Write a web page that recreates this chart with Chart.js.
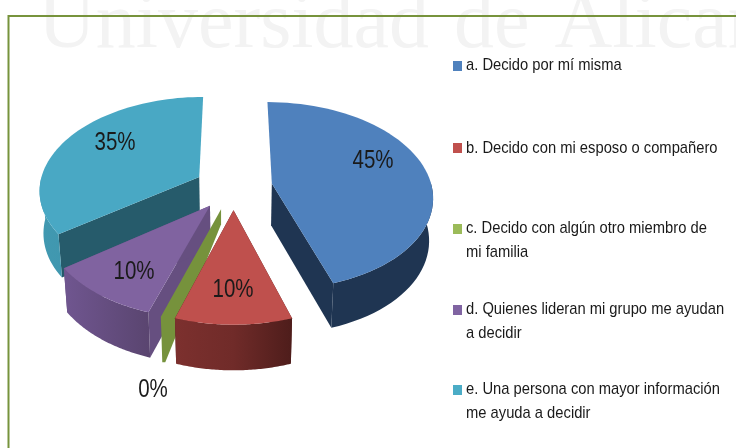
<!DOCTYPE html>
<html><head><meta charset="utf-8">
<style>
html,body{margin:0;padding:0;background:#fff}
#wrap{position:absolute;left:0;top:0;width:736px;height:448px}
</style>
<script src="https://cdn.jsdelivr.net/npm/chart.js@4"></script>
</head><body>
<div id="wrap"><canvas id="c" width="736" height="448"></canvas></div>
<script>
const categories=[
 ["a. Decido por mí misma"],
 ["b. Decido con mi esposo o compañero"],
 ["c. Decido con algún otro miembro de","mi familia"],
 ["d. Quienes lideran mi grupo me ayudan","a decidir"],
 ["e. Una persona con mayor información","me ayuda a decidir"]];
const values=[45,10,0,10,35];
const topColors=["#4f81bd","#bf504d","#76923c","#8063a0","#49a8c4"];
const legendColors=["#4f81bd","#c0504d","#9bbb59","#8064a2","#4bacc6"];
const cutColors=["#1f3552","#4e1d1b","#76923c","#664f80","#265b6b"];
const sideStops=[["#1f3552","#1f3552"],["#7c302e","#702b29","#4e1d1b"],["#76923c","#76923c"],["#705690","#5a4570"],["#4199b1","#3a8ca3"]];

const labelPos=[[373,161],[233,290],[153,390],[134,272],[115,143]];
const legendY=[[65],[148],[228,252],[309,333],[389,413]];
const markerY=[66,148,229,310,390];
const flat=0.58, persp=0.13, depth=42;

const pie3d={id:'pie3d',
 beforeDraw(ch){
  const c=ch.ctx;
  c.save();c.fillStyle='#fff';c.fillRect(0,0,736,448);
  c.font='80px "Liberation Serif"';c.fillStyle='#f3f3f3';c.textBaseline='alphabetic';
  c.wordSpacing='5px';
  c.fillText('Universidad de Alicante',38,47);
  c.strokeStyle='#77933c';c.lineWidth=2;
  c.beginPath();c.moveTo(8.5,448);c.lineTo(8.5,16);c.lineTo(736,16);c.stroke();
  c.restore();
 },
 beforeDatasetsDraw(ch){
  const c=ch.ctx, arcs=ch.getDatasetMeta(0).data;
  [0,4,3,2,1].forEach(i=>{
   const a=arcs[i], p=a.getProps(['x','y','startAngle','endAngle','outerRadius'],true);
   const R=p.outerRadius, e=a.options.offset/R, mid=(p.startAngle+p.endAngle)/2;
   const eu=e*Math.cos(mid), ev=e*Math.sin(mid);
   const P=(u,v,low)=>{
    const s=1/(1-persp*v);
    let x=p.x+R*u*s, y=p.y+R*flat*v*s;
    if(low){x=p.x+(x-p.x)*0.98;y+=depth*(1+0.07*v);}
    return [x,y];
   };
   const rim=[];
   for(let k=0;k<=60;k++){
    const t=p.startAngle+(p.endAngle-p.startAngle)*k/60;
    rim.push([eu+Math.cos(t),ev+Math.sin(t),Math.sin(t)]);
   }
   const poly=(pts,fill)=>{
    c.fillStyle=fill;c.beginPath();
    pts.forEach((q,n)=>n?c.lineTo(q[0],q[1]):c.moveTo(q[0],q[1]));
    c.closePath();c.fill();
   };
   const apexT=P(eu,ev,false);
   const apexB=P(eu,ev,true);
   if(values[i]===0){
    const o=rim[0], oT=P(o[0],o[1],false), oB=P(o[0],o[1],true);
    poly([apexT,[apexT[0],apexT[1]+15],[oB[0]+3,oB[1]],oB,oT],cutColors[i]);
    return;
   }
   [rim[0],rim[60]].filter(o=>o[2]>0).forEach(o=>poly([apexT,P(o[0],o[1],false),P(o[0],o[1],true),apexB],cutColors[i]));
   const top=rim.map(o=>P(o[0],o[1],false));
   const front=rim.filter(o=>o[2]>=-0.03);
   const frontTop=front.map(o=>P(o[0],o[1],false)), frontLow=front.map(o=>P(o[0],o[1],true));
   const xs=top.map(q=>q[0]);
   const g=c.createLinearGradient(Math.min(...xs),0,Math.max(...xs),0);
   sideStops[i].forEach((col,n,l)=>g.addColorStop(n/(l.length-1),col));
   poly(frontTop.concat(frontLow.slice().reverse()),g);
   poly([apexT].concat(top),topColors[i]);
  });
  return false;
 },
 afterDraw(ch){
  const c=ch.ctx;c.save();
  c.filter='blur(0.4px)';
  c.font='25px "Liberation Sans"';c.fillStyle='#1a1a1a';c.textAlign='center';c.textBaseline='middle';
  values.forEach((v,i)=>{
   const t=v+'%';
   c.fillText(t,labelPos[i][0],labelPos[i][1],c.measureText(t).width*0.82);
  });
  c.textAlign='left';
  categories.forEach((ls,i)=>{
   c.fillStyle=legendColors[i];
   c.fillRect(453,markerY[i]-5,9,10);
   c.fillStyle='#1a1a1a';c.font='17px "Liberation Sans"';
   ls.forEach((l,j)=>c.fillText(l,466,legendY[i][j],c.measureText(l).width*0.867));
  });
  c.restore();
 }};
new Chart(document.getElementById('c'),{
 type:'pie',
 data:{labels:categories.map(l=>l.join(' ')),datasets:[{data:values,backgroundColor:topColors,borderWidth:0,offset:39,radius:160}]},
 options:{responsive:false,animation:false,rotation:0,
  layout:{padding:{left:0,top:0,right:269,bottom:74}},
  plugins:{legend:{display:false},tooltip:{enabled:false}}},
 plugins:[pie3d]
});
</script></body></html>
